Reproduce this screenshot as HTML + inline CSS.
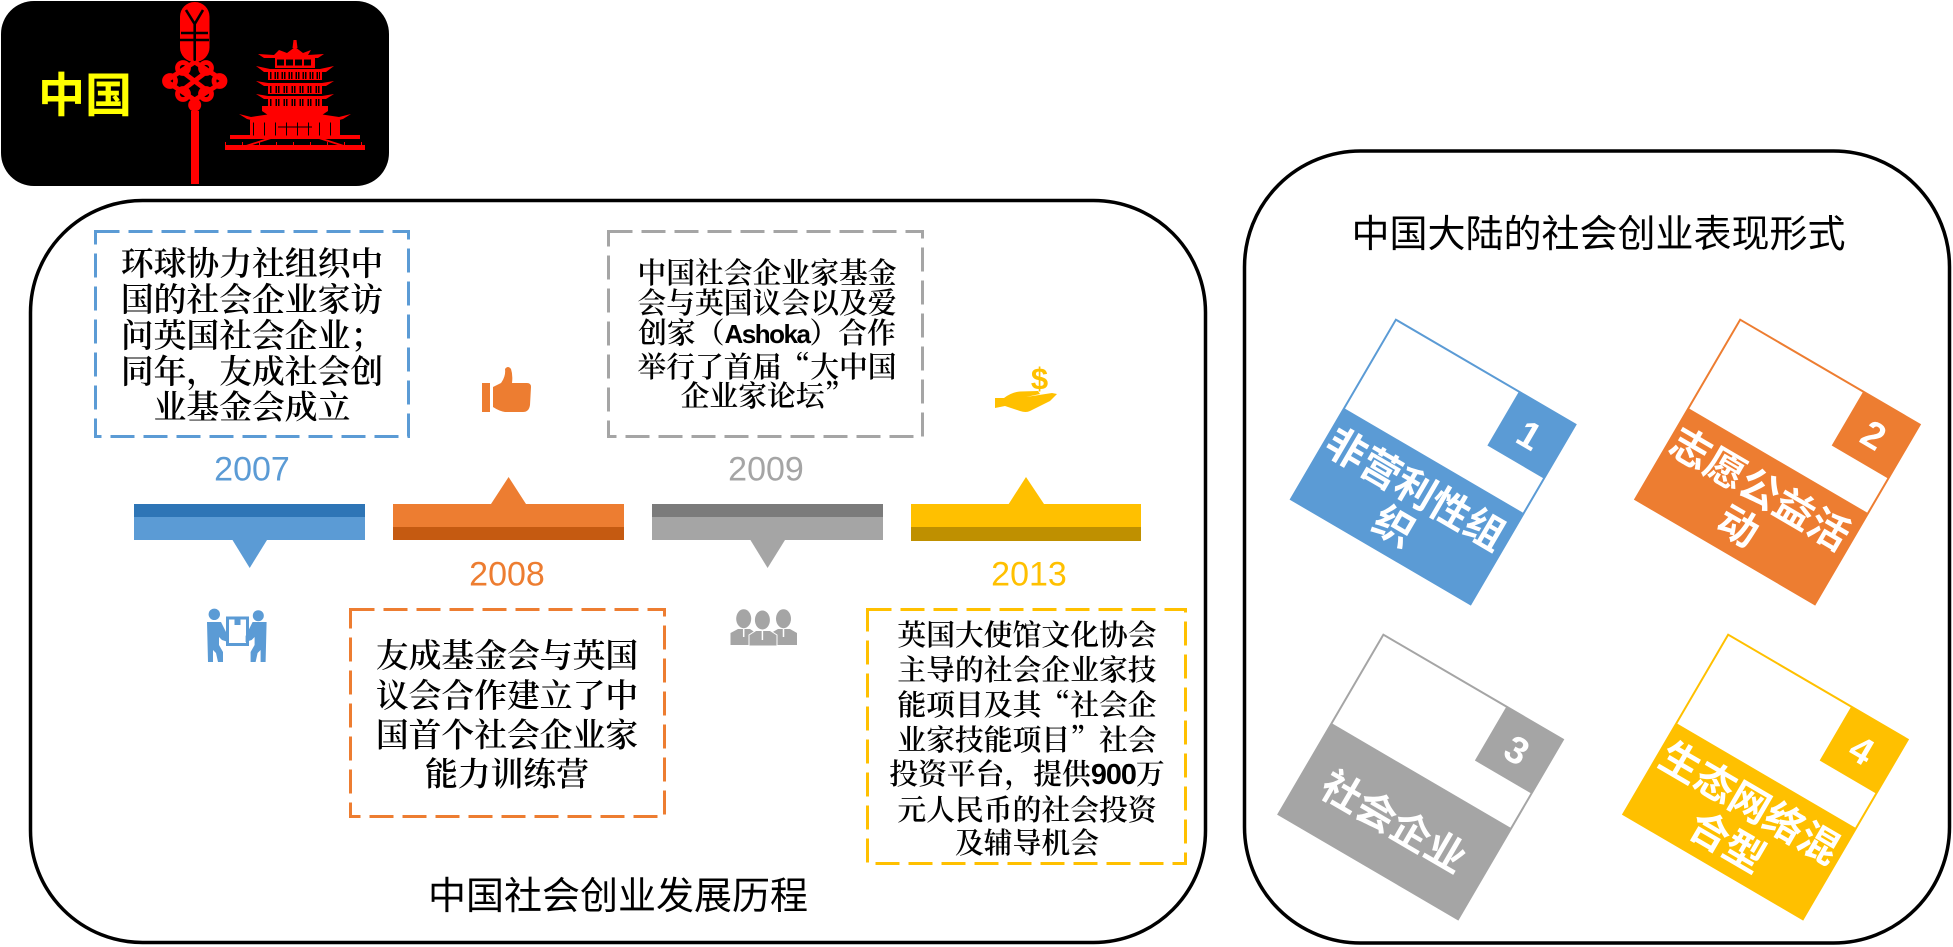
<!DOCTYPE html>
<html lang="zh-CN"><head><meta charset="utf-8"><title>中国社会创业</title>
<style>
html,body{margin:0;padding:0;background:#fff;width:1953px;height:947px;overflow:hidden}
svg{display:block;position:absolute;left:0;top:0}
.s{font-family:"Noto Serif CJK SC","Liberation Serif",serif;font-weight:600;fill:#000;text-anchor:middle}
.t{font-family:"Liberation Sans","Noto Sans CJK SC",sans-serif;font-size:38px;fill:#000;text-anchor:middle}
.y{font-family:"Liberation Sans",sans-serif;font-size:34px;text-anchor:middle}
.w{font-family:"Liberation Sans","Noto Sans CJK SC",sans-serif;font-weight:700;font-size:40px;fill:#fff;text-anchor:middle}
.n{font-family:"Liberation Sans",sans-serif;font-weight:700;font-size:38px;fill:#fff;text-anchor:middle}
.a{font-family:"Liberation Sans",sans-serif;font-weight:700}
</style></head><body>
<svg width="1953" height="947" viewBox="0 0 1953 947" xmlns="http://www.w3.org/2000/svg">
<!-- black banner -->
<rect x="1" y="1" width="388" height="185" rx="33" fill="#000"/>
<text x="85" y="112" style="font-family:'Liberation Sans','Noto Sans CJK SC',sans-serif;font-weight:700;font-size:47px;fill:#ff0;text-anchor:middle">中国</text>
<!-- knot -->
<g fill="#f00">
<rect x="180" y="2" width="29.500" height="60" rx="14.500"/>
<circle cx="194.700" cy="105" r="6.500"/>
<rect x="191" y="111" width="8" height="73"/>
</g>
<g stroke="#000" stroke-width="2.600" fill="none">
<path d="M186 10 L194.700 24 L203 10 M194.700 24 V61 M181 33 H208 M180 40 H209"/>
</g>
<g stroke="#f00" stroke-width="4.800" fill="none">
<path d="M194.700 62 L224 81 M180 70 L209 92 M166 81 L194.700 100 M209 70 L180 92 M194.700 62 L166 81 M224 81 L194.700 100"/>
<circle cx="170" cy="81" r="5.500"/><circle cx="219.500" cy="81" r="5.500"/>
<circle cx="183" cy="68" r="5.500"/><circle cx="206" cy="68" r="5.500"/>
<circle cx="183" cy="94" r="5.500"/><circle cx="206" cy="94" r="5.500"/>
</g>
<!-- pagoda -->
<g fill="#f00">
<path d="M293.500 40h3l1 8h-5z"/>
<path d="M279 50l8 3 8-6 8 6 8-3-3 5 16-1-6 4h-54l-6-4 16 1z"/>
<rect x="275" y="58" width="40" height="10"/>
<path d="M256 66l14 3h50l14-3-8 6h-62z"/>
<rect x="268" y="71" width="54" height="9"/>
<path d="M256 81l12 2h54l12-2-8 5h-62z"/>
<rect x="268" y="85" width="54" height="9"/>
<path d="M256 94l12 2h54l12-2-8 5h-62z"/>
<rect x="268" y="98" width="54" height="9"/>
<path d="M262 106h66v5l-6 4h-54l-6-4z"/>
<path d="M239 114l12 3 20-3 24-6 24 6 20 3 12-3-8 5-11 3h-74l-11-3z"/>
<rect x="250" y="120" width="90" height="16"/>
<rect x="230" y="135" width="130" height="4"/>
<path d="M268 138l-28 9h6l28-9zM322 138l28 9h-6l-28-9z"/>
<rect x="225" y="145" width="140" height="5"/>
</g>
<g stroke="#000" fill="none">
<path d="M277 62.500H313" stroke-width="6" stroke-dasharray="7 2"/>
<path d="M270 75.500H320" stroke-width="7" stroke-dasharray="1.500 3 1.500 1"/>
<path d="M270 89.500H320" stroke-width="7" stroke-dasharray="1.500 4 1.500 1"/>
<path d="M270 102.500H320" stroke-width="7" stroke-dasharray="1.500 4 1.500 1"/>
<path d="M253 129H337" stroke-width="13" stroke-dasharray="1 10"/>
<path d="M278 127H312" stroke-width="1"/>
</g>
<g stroke="#f00" fill="none"><path d="M225 145H365" stroke-dasharray="1 16" stroke-width="6"/></g>
<!-- outer frames -->
<rect x="30.500" y="200.500" width="1175" height="742" rx="112" fill="none" stroke="#000" stroke-width="3.500"/>
<rect x="1244.500" y="151" width="705" height="792" rx="116" fill="none" stroke="#000" stroke-width="3.500"/>
<!-- timeline bars -->
<rect x="134" y="504" width="231" height="36" fill="#5B9BD5"/><rect x="134" y="504" width="231" height="13" fill="#2E75B6"/>
<path d="M232.500 540H267L249.700 568z" fill="#5B9BD5"/>
<rect x="393" y="504" width="231" height="36" fill="#ED7D31"/><rect x="393" y="527" width="231" height="13" fill="#C55A11"/>
<path d="M491 504H526L508.600 477z" fill="#ED7D31"/>
<rect x="652" y="504" width="231" height="36" fill="#A5A5A5"/><rect x="652" y="504" width="231" height="13" fill="#7B7B7B"/>
<path d="M750.400 540H785L767.600 568z" fill="#A5A5A5"/>
<rect x="911" y="504" width="230" height="37" fill="#FFC000"/><rect x="911" y="527" width="230" height="14" fill="#BF9000"/>
<path d="M1008.700 504H1044L1026 477z" fill="#FFC000"/>
<!-- years -->
<text class="y" x="252" y="480.500" fill="#5B9BD5">2007</text>
<text class="y" x="507" y="585.500" fill="#ED7D31">2008</text>
<text class="y" x="766" y="480.500" fill="#A5A5A5">2009</text>
<text class="y" x="1029" y="585.500" fill="#FFC000">2013</text>
<!-- dashed boxes -->
<g fill="none" stroke-width="3" stroke-dasharray="24 9">
<rect x="95.500" y="231.500" width="313" height="205" stroke="#5B9BD5"/>
<rect x="350.500" y="609.500" width="314" height="207" stroke="#ED7D31"/>
<rect x="608.500" y="231.500" width="314" height="205" stroke="#A5A5A5"/>
<rect x="867.500" y="609.500" width="318" height="254" stroke="#FFC000"/>
</g>
<!-- box 1 -->
<g style="font-size:32.800px">
<text class="s" x="252" y="275">环球协力社组织中</text>
<text class="s" x="252" y="311">国的社会企业家访</text>
<text class="s" x="252" y="347">问英国社会企业；</text>
<text class="s" x="252" y="383">同年，友成社会创</text>
<text class="s" x="252" y="418.500">业基金会成立</text>
</g>
<!-- box 2 -->
<g style="font-size:32.800px">
<text class="s" x="507" y="667">友成基金会与英国</text>
<text class="s" x="507" y="707">议会合作建立了中</text>
<text class="s" x="507" y="746.500">国首个社会企业家</text>
<text class="s" x="507" y="785.500">能力训练营</text>
</g>
<!-- box 3 -->
<g style="font-size:28.800px">
<text class="s" x="767" y="283">中国社会企业家基金</text>
<text class="s" x="767" y="313">会与英国议会以及爱</text>
<text class="s" x="767" y="343">创家（<tspan class="a" style="font-size:26px;letter-spacing:-1.500px">Ashoka</tspan>）合作</text>
<text class="s" x="767" y="377">举行了首届“大中国</text>
<text class="s" x="767" y="406">企业家论坛”</text>
</g>
<!-- box 4 -->
<g style="font-size:28.800px">
<text class="s" x="1027" y="645">英国大使馆文化协会</text>
<text class="s" x="1027" y="680">主导的社会企业家技</text>
<text class="s" x="1027" y="715">能项目及其“社会企</text>
<text class="s" x="1027" y="750">业家技能项目”社会</text>
<text class="s" x="1027" y="784">投资平台，提供<tspan class="a" style="letter-spacing:-1px">900</tspan>万</text>
<text class="s" x="1027" y="820">元人民币的社会投资</text>
<text class="s" x="1027" y="853">及辅导机会</text>
</g>
<!-- titles -->
<text class="t" x="618" y="909">中国社会创业发展历程</text>
<text class="t" x="1598.500" y="247">中国大陆的社会创业表现形式</text>
<!-- thumbs up -->
<g fill="#ED7D31"><rect x="482" y="383" width="8" height="29"/>
<path d="M493 387L501 383Q506 376 505 369Q508 365 511 369Q513 375 512 383L527 383Q531 383 531 387L530 405Q529 412 523 412L505 412Q499 411 493 407Z"/></g>
<!-- movers -->
<g fill="#5B9BD5">
<circle cx="214.300" cy="614.300" r="5.700"/><circle cx="258.300" cy="615.700" r="5.500"/>
<path d="M207 622H221L228 636V642L222 640L219 637V645L223 652V662H218L216 653L213 650V662H208Z"/>
<path d="M266.600 622H252.600L245.600 636V642L251.600 640L254.600 637V645L250.600 652V662H255.600L257.600 653L260.600 650V662H265.600Z"/>
<path d="M226 616.500H249V646H226ZM229 619.500V643H246V619.500H240.500V625H234.500V619.500Z"/>
</g>
<!-- grey people -->
<g fill="#A5A5A5">
<ellipse cx="743.700" cy="618.700" rx="7.500" ry="9.500"/><ellipse cx="783.500" cy="618.700" rx="7.500" ry="9.500"/>
<path d="M730.500 645V633L738 629H750L756 633V645Z"/>
<path d="M797 645V633L790 629H778L771 633V645Z"/>
<path d="M749 646V635L756 630.500H770L777 635V646Z" stroke="#fff" stroke-width="1"/>
<ellipse cx="762.400" cy="620" rx="7.500" ry="9.500"/>
</g>
<path d="M743.700 629V637M762.400 631V640M783.500 629V637" stroke="#fff" stroke-width="1.500" fill="none"/>
<!-- dollar hand -->
<text x="1039.500" y="389" style="font-family:'Liberation Sans',sans-serif;font-weight:700;font-size:31px;fill:#FFC000;text-anchor:middle">$</text>
<path d="M995 398L1004 398Q1012 392 1020 391.500L1038 391L1040 394L1026 397L1052 393L1057 394L1050 401L1030 411Q1026 413 1020 411L1005 406L995 408Z" fill="#FFC000"/>
<!-- cards -->
<g transform="translate(1395.700 319) rotate(30.300)">
<rect x=".5" y=".5" width="208" height="208" fill="#fff" stroke="#5B9BD5" stroke-width="2"/>
<rect y="103" width="209" height="106" fill="#5B9BD5"/><rect x="143" width="66" height="63" fill="#5B9BD5"/>
<text class="n" x="174" y="46">1</text>
<text class="w" x="103" y="151">非营利性组</text><text class="w" x="103" y="194">织</text>
</g>
<g transform="translate(1740 319) rotate(30.300)">
<rect x=".5" y=".5" width="208" height="208" fill="#fff" stroke="#ED7D31" stroke-width="2"/>
<rect y="103" width="209" height="106" fill="#ED7D31"/><rect x="143" width="66" height="63" fill="#ED7D31"/>
<text class="n" x="174" y="46">2</text>
<text class="w" x="103" y="151">志愿公益活</text><text class="w" x="103" y="194">动</text>
</g>
<g transform="translate(1383.200 634) rotate(30.300)">
<rect x=".5" y=".5" width="208" height="208" fill="#fff" stroke="#A5A5A5" stroke-width="2"/>
<rect y="103" width="209" height="106" fill="#A5A5A5"/><rect x="143" width="66" height="63" fill="#A5A5A5"/>
<text class="n" x="174" y="46">3</text>
<text class="w" x="104" y="171">社会企业</text>
</g>
<g transform="translate(1728 634) rotate(30.300)">
<rect x=".5" y=".5" width="208" height="208" fill="#fff" stroke="#FFC000" stroke-width="2"/>
<rect y="103" width="209" height="106" fill="#FFC000"/><rect x="143" width="66" height="63" fill="#FFC000"/>
<text class="n" x="174" y="46">4</text>
<text class="w" x="104" y="149">生态网络混</text><text class="w" x="104" y="194">合型</text>
</g>
</svg>
</body></html>
